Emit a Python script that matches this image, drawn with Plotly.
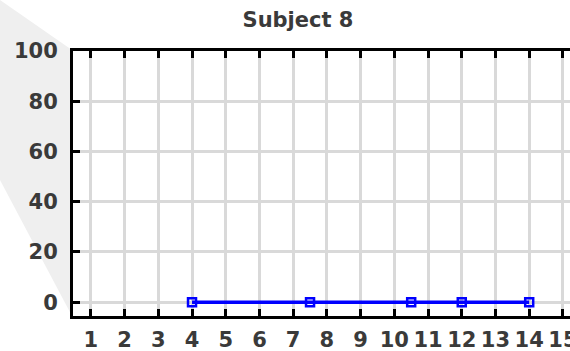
import plotly.graph_objects as go

# Session data for subject 8
sessions = [4, 7.5, 10.5, 12, 14]
scores = [0, 0, 0, 0, 0]
x_ticks = list(range(1, 16))
y_ticks = [0, 20, 40, 60, 80, 100]

W, H = 570, 351
L, T, B = 73, 51, 35
plot_w = W - L
plot_h = H - T - B

def px_to_paper(px, py):
    return (px - L) / plot_w, (H - B - py) / plot_h

# light grey backdrop on the left side
pts = [px_to_paper(0, 0), px_to_paper(72, 50), px_to_paper(72, 316), px_to_paper(0, 180)]
path = "M " + " L ".join(f"{x:.4f},{y:.4f}" for x, y in pts) + " Z"

tick_font = dict(family="DejaVu Sans", size=21, color="#3a3a3a", weight="bold")

fig = go.Figure()
fig.add_trace(go.Scatter(
    x=sessions, y=scores,
    mode="lines+markers",
    line=dict(color="#0000ff", width=3.5),
    marker=dict(symbol="square-open", size=8, color="#0000ff",
                line=dict(color="#0000ff", width=2.5)),
    showlegend=False,
))

fig.update_layout(
    width=W, height=H,
    margin=dict(l=L, r=0, t=T, b=B, autoexpand=False),
    paper_bgcolor="white",
    plot_bgcolor="white",
    title=dict(text="Subject 8", x=298 / W, xanchor="center", xref="container",
               y=1 - 20 / H, yanchor="middle", yref="container",
               font=dict(family="DejaVu Sans", size=21, color="#3a3a3a", weight="bold")),
    shapes=[dict(type="path", xref="paper", yref="paper", path=path,
                 fillcolor="#efefef", line=dict(width=0), layer="below")],
    xaxis=dict(
        range=[0.47, 15.21], automargin=False, ticklabeloverflow="allow",
        tickmode="array", tickvals=x_ticks, ticktext=[str(v) for v in x_ticks],
        ticks="inside", ticklen=7, tickwidth=3, tickcolor="black",
        showline=True, linecolor="black", linewidth=3, mirror="ticks",
        showgrid=True, gridcolor="#d9d9d9", gridwidth=3,
        zeroline=False, tickfont=tick_font, ticklabelstandoff=3,
    ),
    yaxis=dict(
        range=[-5.5, 100], automargin=False,
        tickmode="array", tickvals=y_ticks, ticktext=[str(v) for v in y_ticks],
        ticks="inside", ticklen=7, tickwidth=3, tickcolor="black",
        showline=True, linecolor="black", linewidth=3, mirror=False,
        showgrid=True, gridcolor="#d9d9d9", gridwidth=3,
        zeroline=False, tickfont=tick_font, ticklabelstandoff=8,
    ),
)

fig.write_html("out.html")
